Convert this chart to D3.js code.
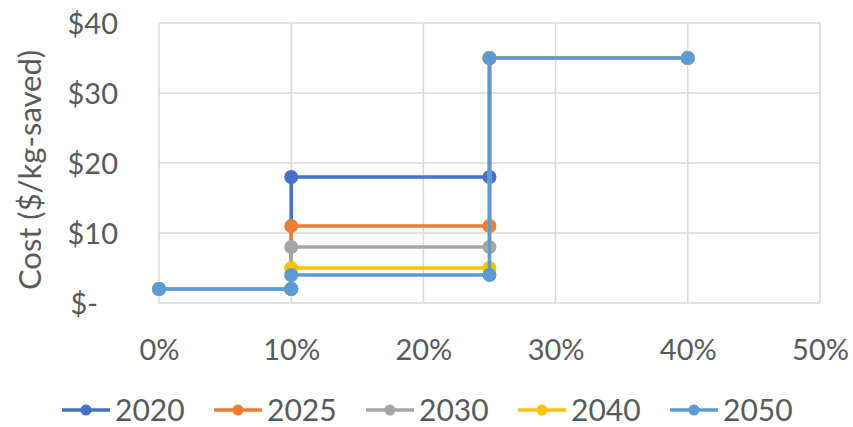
<!DOCTYPE html>
<html>
<head>
<meta charset="utf-8">
<script src="https://cdn.jsdelivr.net/npm/d3@7"></script>
<style>
  html, body { margin: 0; padding: 0; background: #fff; }
  svg { display: block; font-family: Lato, "Open Sans", sans-serif; }
</style>
</head>
<body>
<svg id="chart" width="853" height="427"></svg>
<script>
// Share of weight saved (%) at each step of the cost curve
const stepX = [0, 10, 10, 25, 25, 40];

// Cost ($/kg-saved) of the middle step, per scenario year
const years = ["2020", "2025", "2030", "2040", "2050"];
const midCost = [18, 11, 8, 5, 4];
const lowCost = 2;   // first tranche, shared by all years
const highCost = 35; // last tranche, shared by all years
const colors = ["#4472C4", "#ED7D31", "#A5A5A5", "#FFC000", "#5B9BD5"];

const xTicks = [0, 10, 20, 30, 40, 50];
const yTicks = [0, 10, 20, 30, 40];
const yTickLabels = ["$-", "$10", "$20", "$30", "$40"];
const yTitle = "Cost ($/kg-saved)";

// Each year's series: low step, middle step, high step
const series = years.map((yr, i) => ({
  year: yr,
  color: colors[i],
  values: stepX.map((x, j) => ({
    x: x,
    y: [lowCost, lowCost, midCost[i], midCost[i], highCost, highCost][j]
  }))
}));

const svg = d3.select("#chart");
const plot = { left: 159, right: 820, top: 23, bottom: 303 };

const x = d3.scaleLinear().domain([0, 50]).range([plot.left, plot.right]);
const y = d3.scaleLinear().domain([0, 40]).range([plot.bottom, plot.top]);

const textColor = "#595959";
const gridColor = "#D9D9D9";

// Gridlines
const grid = svg.append("g");
grid.selectAll("line.h").data(yTicks).enter().append("line")
  .attr("x1", plot.left).attr("x2", plot.right)
  .attr("y1", d => y(d)).attr("y2", d => y(d))
  .attr("stroke", gridColor).attr("stroke-width", 1.5);
grid.selectAll("line.v").data(xTicks).enter().append("line")
  .attr("y1", plot.top).attr("y2", plot.bottom)
  .attr("x1", d => x(d)).attr("x2", d => x(d))
  .attr("stroke", gridColor).attr("stroke-width", 1.5);

// Axes (labels only; the grid frames the plot)
const yAxis = d3.axisLeft(y).tickValues(yTicks)
  .tickFormat((d, i) => yTickLabels[i]).tickSize(0).tickPadding(0);
const gy = svg.append("g").attr("transform", `translate(${plot.left - 41},0)`).call(yAxis);
gy.select(".domain").remove();
gy.selectAll("text")
  .attr("fill", textColor).attr("font-size", 29)
  .attr("font-family", "Lato, 'Open Sans', sans-serif")
  .attr("dx", d => d === 0 ? -20 : 0)
  .attr("dy", "0.36em");

const xAxis = d3.axisBottom(x).tickValues(xTicks)
  .tickFormat(d => d + "%").tickSize(0).tickPadding(0);
const gx = svg.append("g").attr("transform", `translate(0,${plot.bottom + 57})`).call(xAxis);
gx.select(".domain").remove();
gx.selectAll("text")
  .attr("fill", textColor).attr("font-size", 29)
  .attr("font-family", "Lato, 'Open Sans', sans-serif")
  .attr("dy", "0");

// Y axis title
svg.append("text")
  .attr("transform", `translate(41,${(plot.top + plot.bottom) / 2 + 7}) rotate(-90)`)
  .attr("text-anchor", "middle")
  .attr("fill", textColor).attr("font-size", 31)
  .text(yTitle);

// Series lines and markers
const line = d3.line().x(d => x(d.x)).y(d => y(d.y));
const sg = svg.append("g").selectAll("g").data(series).enter().append("g");
sg.append("path")
  .attr("d", d => line(d.values))
  .attr("fill", "none")
  .attr("stroke", d => d.color)
  .attr("stroke-width", 3.5)
  .attr("stroke-linejoin", "round");
sg.selectAll("circle").data(d => d.values.map(v => ({ ...v, color: d.color })))
  .enter().append("circle")
  .attr("cx", d => x(d.x)).attr("cy", d => y(d.y))
  .attr("r", 7)
  .attr("fill", d => d.color);

// Legend
const legendX = [62, 214, 366, 518, 670];
const legendY = 410;
const lg = svg.append("g").selectAll("g").data(series).enter().append("g")
  .attr("transform", (d, i) => `translate(${legendX[i]},${legendY})`);
lg.append("line").attr("x1", 0).attr("x2", 48).attr("y1", 0).attr("y2", 0)
  .attr("stroke", d => d.color).attr("stroke-width", 3.5);
lg.append("circle").attr("cx", 24).attr("cy", 0).attr("r", 5.5).attr("fill", d => d.color);
lg.append("text").attr("x", 53).attr("y", 0).attr("dy", "0.36em")
  .attr("fill", textColor).attr("font-size", 30)
  .text(d => d.year);
</script>
</body>
</html>
